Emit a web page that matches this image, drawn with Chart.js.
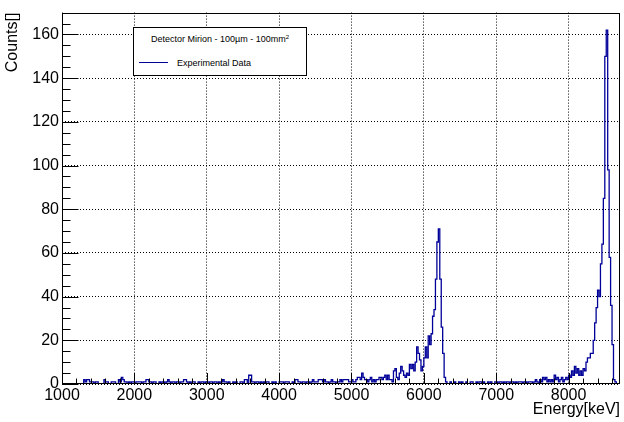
<!DOCTYPE html>
<html lang="en">
<head>
    <meta charset="UTF-8">
    <meta name="viewport" content="width=device-width, initial-scale=1.0">
    <title>Detector Mirion spectrum</title>
    <script src="https://cdn.jsdelivr.net/npm/chart.js"></script>
    <style>
        html, body {
            margin: 0;
            padding: 0;
            background: #fff;
        }

        .wrap {
            position: relative;
            width: 624px;
            height: 422px;
        }

        #spectrum {
            display: block;
        }

        /* ROOT style legend box */
        .legend {
            position: absolute;
            left: 133px;
            top: 27px;
            width: 174px;
            height: 49px;
            box-sizing: border-box;
            border: 1px solid #000;
            background: #fff;
            font-family: "Liberation Sans", Arial, sans-serif;
            font-size: 9px;
            color: #000;
        }

        .legend-head {
            position: absolute;
            left: 0;
            right: 0;
            top: 5px;
            line-height: 12px;
            text-align: center;
        }

        .legend-head sup {
            font-size: 6px;
            line-height: 0;
            vertical-align: 3px;
        }

        .legend-line {
            position: absolute;
            left: 5px;
            top: 34px;
            width: 29px;
            height: 1px;
            background: #000099;
        }

        .legend-label {
            position: absolute;
            left: 43px;
            top: 29px;
            line-height: 12px;
        }
    </style>
</head>
<body>
<div class="wrap">
    <canvas id="spectrum" width="624" height="422"></canvas>
    <div class="legend">
        <div class="legend-head">Detector Mirion - 100µm - 100mm<sup>2</sup></div>
        <span class="legend-line"></span>
        <span class="legend-label">Experimental Data</span>
    </div>
</div>

<script>
    // histogram: 20 keV bins starting at 1000 keV
    const binStart = 1000;
    const binWidth = 20;
    const counts = [
        0, 0, 0, 0, 0, 0, 0, 0, 0, 0,        // 1000
        0, 0, 0, 0, 0, 2, 1, 2, 2, 1,        // 1200
        1, 1, 0, 1, 1, 0, 0, 0, 0, 2,        // 1400
        1, 1, 0, 0, 1, 1, 1, 0, 0, 2,        // 1600
        1, 3, 2, 1, 1, 0, 1, 0, 1, 1,        // 1800
        0, 1, 1, 1, 1, 0, 1, 1, 2, 2,        // 2000
        1, 1, 0, 1, 1, 0, 0, 1, 0, 1,        // 2200
        1, 0, 1, 2, 1, 0, 1, 1, 0, 1,        // 2400
        1, 0, 1, 1, 2, 2, 1, 0, 1, 0,        // 2600
        1, 1, 0, 0, 1, 0, 1, 1, 0, 1,        // 2800
        1, 0, 1, 1, 0, 1, 1, 0, 1, 0,        // 3000
        1, 2, 1, 1, 0, 1, 0, 0, 1, 0,        // 3200
        1, 0, 0, 1, 1, 0, 2, 2, 0, 4,        // 3400
        4, 1, 1, 0, 1, 1, 0, 1, 0, 1,        // 3600
        0, 1, 1, 0, 0, 1, 0, 1, 0, 0,        // 3800
        1, 1, 1, 0, 1, 1, 1, 0, 0, 1,        // 4000
        0, 2, 2, 1, 1, 0, 1, 1, 0, 1,        // 4200
        1, 0, 1, 2, 1, 1, 1, 2, 2, 2,        // 4400
        1, 2, 1, 1, 0, 1, 2, 1, 1, 0,        // 4600
        1, 1, 2, 1, 2, 2, 2, 2, 1, 1,        // 4800
        2, 1, 1, 2, 3, 3, 2, 5, 3, 2,        // 5000
        2, 1, 2, 3, 1, 2, 1, 2, 2, 3,        // 5200
        3, 2, 3, 4, 2, 4, 2, 2, 1, 6,        // 5400
        7, 3, 2, 5, 8, 6, 4, 3, 5, 4,        // 5600
        9, 7, 9, 6, 10, 17, 14, 11, 6, 8,    // 5800
        12, 17, 12, 22, 18, 23, 31, 34, 48, 65, // 6000
        71, 48, 26, 14, 3, 1, 0, 0, 1, 0,    // 6200
        0, 1, 0, 0, 1, 0, 1, 0, 0, 1,        // 6400
        0, 0, 1, 1, 0, 0, 1, 0, 1, 1,        // 6600
        0, 1, 0, 0, 1, 0, 1, 0, 0, 1,        // 6800
        1, 0, 1, 1, 0, 1, 0, 1, 1, 0,        // 7000
        1, 1, 0, 1, 0, 1, 1, 1, 0, 1,        // 7200
        1, 0, 1, 1, 1, 0, 1, 2, 1, 0,        // 7400
        2, 1, 3, 2, 3, 1, 2, 1, 2, 1,        // 7600
        4, 2, 3, 1, 2, 3, 1, 2, 3, 2,        // 7800
        4, 3, 6, 4, 8, 5, 7, 4, 6, 4,        // 8000
        7, 6, 10, 12, 12, 14, 14, 20, 28, 35, // 8200
        43, 40, 55, 64, 85, 150, 162, 98, 58, 36, // 8400
        18, 2, 1, 0, 0                       // 8600
    ];

    const xRange = [1000, 8710];
    const yRange = [0, 170];
    const xTicks = [1000, 2000, 3000, 4000, 5000, 6000, 7000, 8000];
    const yTicks = [0, 20, 40, 60, 80, 100, 120, 140, 160];
    const xMinorStep = 200;
    const yMinorStep = 5;

    const fontFamily = '"Liberation Sans", Arial, sans-serif';

    // bin left edges + closing edge so the stepped line drops back to 0
    const points = counts.map((c, i) => ({ x: binStart + i * binWidth, y: c }));
    points.push({ x: binStart + counts.length * binWidth, y: 0 });

    // frame around the pad and ROOT-like inner tick marks
    const frameAndTicks = {
        id: 'frameAndTicks',
        afterDatasetsDraw(chart) {
            const { ctx, chartArea: a, scales: { x, y } } = chart;
            ctx.save();
            ctx.strokeStyle = '#000';
            ctx.lineWidth = 1;
            ctx.beginPath();
            for (let v = xRange[0]; v <= xRange[1]; v += xMinorStep) {
                const px = Math.round(x.getPixelForValue(v)) + 0.5;
                const len = (v % 1000 === 0) ? 11 : 5.5;
                ctx.moveTo(px, a.bottom);
                ctx.lineTo(px, a.bottom - len);
            }
            for (let v = yRange[0]; v <= yRange[1]; v += yMinorStep) {
                const py = Math.round(y.getPixelForValue(v)) + 0.5;
                const len = (v % 20 === 0) ? 16.5 : 8.5;
                ctx.moveTo(a.left, py);
                ctx.lineTo(a.left + len, py);
            }
            ctx.stroke();
            ctx.strokeRect(Math.round(a.left) + 0.5, Math.round(a.top) + 0.5,
                Math.round(a.width) - 1, Math.round(a.height) - 1);
            ctx.restore();
        }
    };

    const ctx = document.getElementById('spectrum').getContext('2d');
    new Chart(ctx, {
        type: 'line',
        data: {
            datasets: [{
                label: 'Experimental Data',
                data: points,
                borderColor: '#000099',
                borderWidth: 1.3,
                pointRadius: 0,
                stepped: true,
                fill: false
            }]
        },
        options: {
            responsive: false,
            animation: false,
            layout: { padding: { left: 0, right: 4, top: 4, bottom: 0 } },
            plugins: {
                legend: { display: false },
                tooltip: { enabled: false }
            },
            scales: {
                x: {
                    type: 'linear',
                    min: xRange[0],
                    max: xRange[1],
                    afterBuildTicks: s => { s.ticks = xTicks.map(v => ({ value: v })); },
                    afterFit: s => { s.height = 38; },
                    ticks: {
                        font: { family: fontFamily, size: 16 },
                        color: '#000',
                        padding: 2,
                        maxRotation: 0,
                        autoSkip: false,
                        callback: v => String(v)
                    },
                    grid: { color: '#000', lineWidth: 1, drawTicks: false },
                    border: { display: false, dash: [1, 2] },
                    title: {
                        display: true,
                        text: 'Energy[keV]',
                        align: 'end',
                        color: '#000',
                        font: { family: fontFamily, size: 16 },
                        padding: { top: 0, bottom: 3 }
                    }
                },
                y: {
                    min: yRange[0],
                    max: yRange[1],
                    afterBuildTicks: s => { s.ticks = yTicks.map(v => ({ value: v })); },
                    afterFit: s => { s.width = 62; },
                    ticks: {
                        font: { family: fontFamily, size: 16 },
                        color: '#000',
                        padding: 3,
                        callback: v => String(v)
                    },
                    grid: { color: '#000', lineWidth: 1, drawTicks: false },
                    border: { display: false, dash: [1, 2] },
                    title: {
                        display: true,
                        text: 'Counts[]',
                        align: 'end',
                        color: '#000',
                        font: { family: fontFamily, size: 16 },
                        padding: { top: 3, bottom: 0 }
                    }
                }
            }
        },
        plugins: [frameAndTicks]
    });
</script>
</body>
</html>
